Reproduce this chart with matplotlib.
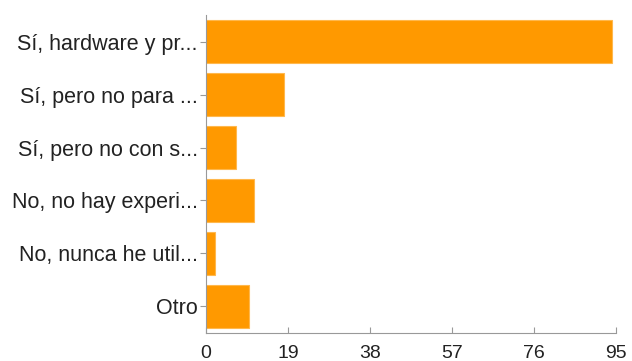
import matplotlib
matplotlib.use('Agg')
import matplotlib.pyplot as plt

# answers (top to bottom) and counts
categories = ['Sí, hardware y pr...', 'Sí, pero no para ...', 'Sí, pero no con s...',
              'No, no hay experi...', 'No, nunca he util...', 'Otro']
counts = [94, 18, 7, 11, 2, 10]
xticks = [0, 19, 38, 57, 76, 95]

plt.rcParams['font.family'] = ['Liberation Sans', 'DejaVu Sans']

fig = plt.figure(figsize=(6.32, 3.61), dpi=100)
ax = fig.add_axes([0.326, 0.078, 0.649, 0.88])

ypos = list(range(len(categories)))
ax.barh(ypos, counts, height=0.8, color='#ff9900', edgecolor='#ffb84d', linewidth=0.8)
ax.set_ylim(len(categories) - 0.5, -0.5)
ax.set_xlim(0, 95)

ax.set_yticks(ypos)
ax.set_yticklabels(categories, fontsize=15.5, color='#222222')
ax.set_xticks(xticks)
ax.set_xticklabels([str(t) for t in xticks], fontsize=14, color='#222222')

for s in ['top', 'right']:
    ax.spines[s].set_visible(False)
for s in ['left', 'bottom']:
    ax.spines[s].set_color('#999999')
    ax.spines[s].set_linewidth(0.8)

ax.tick_params(axis='y', length=4, width=0.8, color='#999999', pad=2)
ax.tick_params(axis='x', direction='in', length=4, width=0.8, color='#999999', pad=9)

fig.savefig('out.png', dpi=100, facecolor='white')
